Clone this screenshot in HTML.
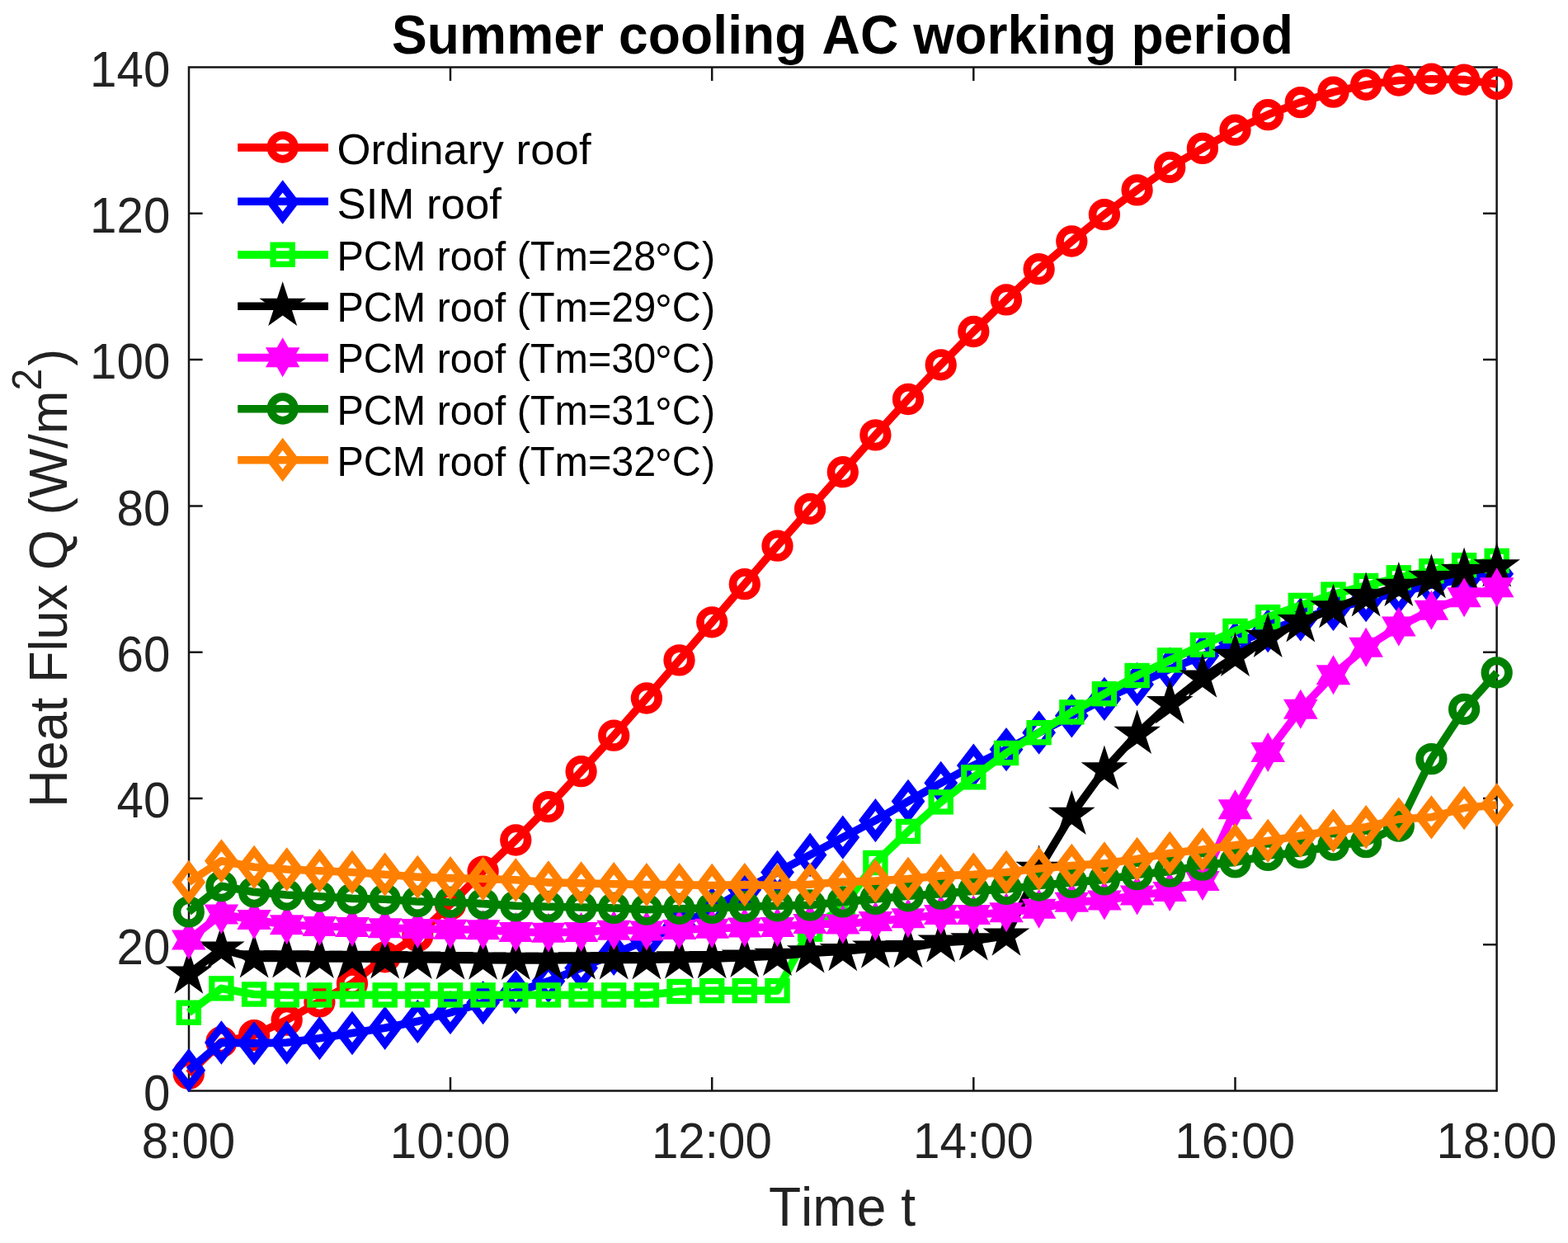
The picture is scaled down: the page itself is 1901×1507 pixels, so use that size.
<!DOCTYPE html>
<html lang="en"><head><meta charset="utf-8"><title>Summer cooling AC working period</title>
<style>html,body{margin:0;padding:0;background:#fff}body{width:1901px;height:1507px;overflow:hidden}svg{display:block}text{font-family:"Liberation Sans",Arial,Helvetica,sans-serif;fill:#000;font-kerning:none}.tk{font-size:58.33px;fill:#222}.lb{font-size:64.17px;fill:#222}.yl{font-size:63.2px;fill:#222}.sp{font-size:47.8px}.tt{font-size:64.17px;font-weight:bold}.lg{font-size:52.8px}.lg2{font-size:48.52px}.dg{font-size:52px}</style></head><body>
<svg width="1901" height="1507" viewBox="0 0 1901 1507">
<rect width="1901" height="1507" fill="#fff"/>
<defs><circle id="m-red" r="14.3" fill="none" stroke="#ff0000" stroke-width="9.7"/><path id="m-blue" d="M0,-19.1 L14.6,0 L0,19.1 L-14.6,0 Z" fill="none" stroke="#0000ff" stroke-width="9.2" stroke-miterlimit="10"/><rect id="m-green" x="-11.6" y="-11.6" width="23.2" height="23.2" fill="none" stroke="#00ff00" stroke-width="7.2"/><polygon id="m-black" points="0,-29.8 6.7,-9.2 28.3,-9.2 10.8,3.5 17.5,24.1 0,11.4 -17.5,24.1 -10.8,3.5 -28.3,-9.2 -6.7,-9.2" fill="#000000"/><polygon id="m-magenta" points="0,-24 6.9,-12 20.8,-12 13.9,0 20.8,12 6.9,12 0,24 -6.9,12 -20.8,12 -13.9,0 -20.8,-12 -6.9,-12" fill="#ff00ff"/><circle id="m-dgreen" r="14.3" fill="none" stroke="#008000" stroke-width="9.7"/><path id="m-orange" d="M0,-19.1 L14.6,0 L0,19.1 L-14.6,0 Z" fill="none" stroke="#ff8000" stroke-width="9.2" stroke-miterlimit="10"/></defs>
<g stroke="#151515" stroke-width="2.5" fill="none" stroke-linecap="square"><rect x="229" y="81.5" width="1585.6" height="1241"/></g><g stroke="#151515" stroke-width="2.5" fill="none"><path d="M546,1322.5 v-16.6 M546,81.5 v16.6"/><path d="M863.2,1322.5 v-16.6 M863.2,81.5 v16.6"/><path d="M1180.3,1322.5 v-16.6 M1180.3,81.5 v16.6"/><path d="M1497.5,1322.5 v-16.6 M1497.5,81.5 v16.6"/><path d="M229,1145.3 h16.6 M1814.6,1145.3 h-16.6"/><path d="M229,968 h16.6 M1814.6,968 h-16.6"/><path d="M229,790.7 h16.6 M1814.6,790.7 h-16.6"/><path d="M229,613.4 h16.6 M1814.6,613.4 h-16.6"/><path d="M229,436.1 h16.6 M1814.6,436.1 h-16.6"/><path d="M229,258.8 h16.6 M1814.6,258.8 h-16.6"/></g>
<g><polyline fill="none" stroke="#ff0000" stroke-width="9.6" stroke-linejoin="round" points="228.8,1301.7 268.4,1263.2 308.1,1255.2 347.7,1236.6 387.4,1214.4 427,1192.2 466.7,1160.3 506.3,1134.6 546,1096.5 585.6,1056.6 625.3,1018.5 664.9,978.2 704.6,935.2 744.2,891.7 783.9,846.5 823.5,800.4 863.2,754.3 902.8,708.2 942.5,661.7 982.1,616.9 1021.8,572.2 1061.4,527.4 1101,484 1140.7,442.3 1180.3,402 1220,363.4 1259.6,326.2 1299.3,292.5 1338.9,260.1 1378.6,230.4 1418.2,202.9 1457.9,179.9 1497.5,157.7 1537.2,139.1 1576.8,124.1 1616.5,111.6 1656.1,102.8 1695.8,97.5 1735.4,95.7 1775.1,96.6 1814.7,101.9"/><use href="#m-red" x="228.8" y="1301.7"/><use href="#m-red" x="268.4" y="1263.2"/><use href="#m-red" x="308.1" y="1255.2"/><use href="#m-red" x="347.7" y="1236.6"/><use href="#m-red" x="387.4" y="1214.4"/><use href="#m-red" x="427" y="1192.2"/><use href="#m-red" x="466.7" y="1160.3"/><use href="#m-red" x="506.3" y="1134.6"/><use href="#m-red" x="546" y="1096.5"/><use href="#m-red" x="585.6" y="1056.6"/><use href="#m-red" x="625.3" y="1018.5"/><use href="#m-red" x="664.9" y="978.2"/><use href="#m-red" x="704.6" y="935.2"/><use href="#m-red" x="744.2" y="891.7"/><use href="#m-red" x="783.9" y="846.5"/><use href="#m-red" x="823.5" y="800.4"/><use href="#m-red" x="863.2" y="754.3"/><use href="#m-red" x="902.8" y="708.2"/><use href="#m-red" x="942.5" y="661.7"/><use href="#m-red" x="982.1" y="616.9"/><use href="#m-red" x="1021.8" y="572.2"/><use href="#m-red" x="1061.4" y="527.4"/><use href="#m-red" x="1101" y="484"/><use href="#m-red" x="1140.7" y="442.3"/><use href="#m-red" x="1180.3" y="402"/><use href="#m-red" x="1220" y="363.4"/><use href="#m-red" x="1259.6" y="326.2"/><use href="#m-red" x="1299.3" y="292.5"/><use href="#m-red" x="1338.9" y="260.1"/><use href="#m-red" x="1378.6" y="230.4"/><use href="#m-red" x="1418.2" y="202.9"/><use href="#m-red" x="1457.9" y="179.9"/><use href="#m-red" x="1497.5" y="157.7"/><use href="#m-red" x="1537.2" y="139.1"/><use href="#m-red" x="1576.8" y="124.1"/><use href="#m-red" x="1616.5" y="111.6"/><use href="#m-red" x="1656.1" y="102.8"/><use href="#m-red" x="1695.8" y="97.5"/><use href="#m-red" x="1735.4" y="95.7"/><use href="#m-red" x="1775.1" y="96.6"/><use href="#m-red" x="1814.7" y="101.9"/></g>
<g><polyline fill="none" stroke="#0000ff" stroke-width="9.6" stroke-linejoin="round" points="228.8,1297.7 268.4,1264 308.1,1264.9 347.7,1264 387.4,1258.7 427,1252.5 466.7,1246.3 506.3,1238.3 546,1227.7 585.6,1215.6 625.3,1202.9 664.9,1189.6 704.6,1173.6 744.2,1156.3 783.9,1139.9 823.5,1122.2 863.2,1101.8 902.8,1078.8 942.5,1057.5 982.1,1036.5 1021.8,1015.2 1061.4,994.6 1101,971.5 1140.7,949.3 1180.3,928.1 1220,908.6 1259.6,888.2 1299.3,867.8 1338.9,847.4 1378.6,829.7 1418.2,811.1 1457.9,795.1 1497.5,779.6 1537.2,764.7 1576.8,750.8 1616.5,738.4 1656.1,727.7 1695.8,718 1735.4,709.1 1775.1,702 1814.7,695.8"/><use href="#m-blue" x="228.8" y="1297.7"/><use href="#m-blue" x="268.4" y="1264"/><use href="#m-blue" x="308.1" y="1264.9"/><use href="#m-blue" x="347.7" y="1264"/><use href="#m-blue" x="387.4" y="1258.7"/><use href="#m-blue" x="427" y="1252.5"/><use href="#m-blue" x="466.7" y="1246.3"/><use href="#m-blue" x="506.3" y="1238.3"/><use href="#m-blue" x="546" y="1227.7"/><use href="#m-blue" x="585.6" y="1215.6"/><use href="#m-blue" x="625.3" y="1202.9"/><use href="#m-blue" x="664.9" y="1189.6"/><use href="#m-blue" x="704.6" y="1173.6"/><use href="#m-blue" x="744.2" y="1156.3"/><use href="#m-blue" x="783.9" y="1139.9"/><use href="#m-blue" x="823.5" y="1122.2"/><use href="#m-blue" x="863.2" y="1101.8"/><use href="#m-blue" x="902.8" y="1078.8"/><use href="#m-blue" x="942.5" y="1057.5"/><use href="#m-blue" x="982.1" y="1036.5"/><use href="#m-blue" x="1021.8" y="1015.2"/><use href="#m-blue" x="1061.4" y="994.6"/><use href="#m-blue" x="1101" y="971.5"/><use href="#m-blue" x="1140.7" y="949.3"/><use href="#m-blue" x="1180.3" y="928.1"/><use href="#m-blue" x="1220" y="908.6"/><use href="#m-blue" x="1259.6" y="888.2"/><use href="#m-blue" x="1299.3" y="867.8"/><use href="#m-blue" x="1338.9" y="847.4"/><use href="#m-blue" x="1378.6" y="829.7"/><use href="#m-blue" x="1418.2" y="811.1"/><use href="#m-blue" x="1457.9" y="795.1"/><use href="#m-blue" x="1497.5" y="779.6"/><use href="#m-blue" x="1537.2" y="764.7"/><use href="#m-blue" x="1576.8" y="750.8"/><use href="#m-blue" x="1616.5" y="738.4"/><use href="#m-blue" x="1656.1" y="727.7"/><use href="#m-blue" x="1695.8" y="718"/><use href="#m-blue" x="1735.4" y="709.1"/><use href="#m-blue" x="1775.1" y="702"/><use href="#m-blue" x="1814.7" y="695.8"/></g>
<g><polyline fill="none" stroke="#00ff00" stroke-width="9.6" stroke-linejoin="round" points="228.8,1227.7 268.4,1198.4 308.1,1205.5 347.7,1206.4 387.4,1206.4 427,1206.4 466.7,1206.4 506.3,1206.4 546,1206.4 585.6,1206.4 625.3,1206.4 664.9,1206.4 704.6,1206.4 744.2,1206.4 783.9,1206.4 823.5,1202 863.2,1201.1 902.8,1201.1 942.5,1201.1 982.1,1126.6 1021.8,1100 1061.4,1046 1101,1007.9 1140.7,972.4 1180.3,942.3 1220,913 1259.6,888.2 1299.3,863.4 1338.9,841.2 1378.6,819 1418.2,800.4 1457.9,781.8 1497.5,765 1537.2,748.1 1576.8,733.9 1616.5,720.6 1656.1,710 1695.8,700.3 1735.4,692.3 1775.1,685.2 1814.7,679.9"/><use href="#m-green" x="228.8" y="1227.7"/><use href="#m-green" x="268.4" y="1198.4"/><use href="#m-green" x="308.1" y="1205.5"/><use href="#m-green" x="347.7" y="1206.4"/><use href="#m-green" x="387.4" y="1206.4"/><use href="#m-green" x="427" y="1206.4"/><use href="#m-green" x="466.7" y="1206.4"/><use href="#m-green" x="506.3" y="1206.4"/><use href="#m-green" x="546" y="1206.4"/><use href="#m-green" x="585.6" y="1206.4"/><use href="#m-green" x="625.3" y="1206.4"/><use href="#m-green" x="664.9" y="1206.4"/><use href="#m-green" x="704.6" y="1206.4"/><use href="#m-green" x="744.2" y="1206.4"/><use href="#m-green" x="783.9" y="1206.4"/><use href="#m-green" x="823.5" y="1202"/><use href="#m-green" x="863.2" y="1201.1"/><use href="#m-green" x="902.8" y="1201.1"/><use href="#m-green" x="942.5" y="1201.1"/><use href="#m-green" x="982.1" y="1126.6"/><use href="#m-green" x="1021.8" y="1100"/><use href="#m-green" x="1061.4" y="1046"/><use href="#m-green" x="1101" y="1007.9"/><use href="#m-green" x="1140.7" y="972.4"/><use href="#m-green" x="1180.3" y="942.3"/><use href="#m-green" x="1220" y="913"/><use href="#m-green" x="1259.6" y="888.2"/><use href="#m-green" x="1299.3" y="863.4"/><use href="#m-green" x="1338.9" y="841.2"/><use href="#m-green" x="1378.6" y="819"/><use href="#m-green" x="1418.2" y="800.4"/><use href="#m-green" x="1457.9" y="781.8"/><use href="#m-green" x="1497.5" y="765"/><use href="#m-green" x="1537.2" y="748.1"/><use href="#m-green" x="1576.8" y="733.9"/><use href="#m-green" x="1616.5" y="720.6"/><use href="#m-green" x="1656.1" y="710"/><use href="#m-green" x="1695.8" y="700.3"/><use href="#m-green" x="1735.4" y="692.3"/><use href="#m-green" x="1775.1" y="685.2"/><use href="#m-green" x="1814.7" y="679.9"/></g>
<g><polyline fill="none" stroke="#000000" stroke-width="9.6" stroke-linejoin="round" points="228.8,1180.7 268.4,1150.6 308.1,1161.5 347.7,1161.5 387.4,1161.9 427,1161.9 466.7,1162.4 506.3,1162.8 546,1163.3 585.6,1163.7 625.3,1163.9 664.9,1163.9 704.6,1163.4 744.2,1163.4 783.9,1163.4 823.5,1162.5 863.2,1162.1 902.8,1160.8 942.5,1159 982.1,1155.5 1021.8,1153.2 1061.4,1149.7 1101,1149.2 1140.7,1142.6 1180.3,1140.4 1220,1134.6 1259.6,1054 1299.3,987.9 1338.9,933.4 1378.6,890 1418.2,853.3 1457.9,821.7 1497.5,796 1537.2,772.9 1576.8,754.3 1616.5,737.5 1656.1,723.3 1695.8,710.9 1735.4,701.1 1775.1,693.2 1814.7,687.5"/><use href="#m-black" x="228.8" y="1180.7"/><use href="#m-black" x="268.4" y="1150.6"/><use href="#m-black" x="308.1" y="1161.5"/><use href="#m-black" x="347.7" y="1161.5"/><use href="#m-black" x="387.4" y="1161.9"/><use href="#m-black" x="427" y="1161.9"/><use href="#m-black" x="466.7" y="1162.4"/><use href="#m-black" x="506.3" y="1162.8"/><use href="#m-black" x="546" y="1163.3"/><use href="#m-black" x="585.6" y="1163.7"/><use href="#m-black" x="625.3" y="1163.9"/><use href="#m-black" x="664.9" y="1163.9"/><use href="#m-black" x="704.6" y="1163.4"/><use href="#m-black" x="744.2" y="1163.4"/><use href="#m-black" x="783.9" y="1163.4"/><use href="#m-black" x="823.5" y="1162.5"/><use href="#m-black" x="863.2" y="1162.1"/><use href="#m-black" x="902.8" y="1160.8"/><use href="#m-black" x="942.5" y="1159"/><use href="#m-black" x="982.1" y="1155.5"/><use href="#m-black" x="1021.8" y="1153.2"/><use href="#m-black" x="1061.4" y="1149.7"/><use href="#m-black" x="1101" y="1149.2"/><use href="#m-black" x="1140.7" y="1142.6"/><use href="#m-black" x="1180.3" y="1140.4"/><use href="#m-black" x="1220" y="1134.6"/><use href="#m-black" x="1259.6" y="1054"/><use href="#m-black" x="1299.3" y="987.9"/><use href="#m-black" x="1338.9" y="933.4"/><use href="#m-black" x="1378.6" y="890"/><use href="#m-black" x="1418.2" y="853.3"/><use href="#m-black" x="1457.9" y="821.7"/><use href="#m-black" x="1497.5" y="796"/><use href="#m-black" x="1537.2" y="772.9"/><use href="#m-black" x="1576.8" y="754.3"/><use href="#m-black" x="1616.5" y="737.5"/><use href="#m-black" x="1656.1" y="723.3"/><use href="#m-black" x="1695.8" y="710.9"/><use href="#m-black" x="1735.4" y="701.1"/><use href="#m-black" x="1775.1" y="693.2"/><use href="#m-black" x="1814.7" y="687.5"/></g>
<g><polyline fill="none" stroke="#ff00ff" stroke-width="9.6" stroke-linejoin="round" points="228.8,1139.5 268.4,1108.5 308.1,1115.1 347.7,1121.3 387.4,1123.1 427,1124 466.7,1125.3 506.3,1125.9 546,1126.8 585.6,1127.3 625.3,1129.9 664.9,1130.8 704.6,1129.9 744.2,1127.7 783.9,1128.4 823.5,1127.1 863.2,1125.8 902.8,1124.4 942.5,1124 982.1,1120 1021.8,1120.4 1061.4,1116.9 1101,1113.3 1140.7,1108.9 1180.3,1108.9 1220,1106.3 1259.6,1101.8 1299.3,1093.8 1338.9,1091.6 1378.6,1085.4 1418.2,1081 1457.9,1068.1 1497.5,981.3 1537.2,912.1 1576.8,859.8 1616.5,818.2 1656.1,784.8 1695.8,759.6 1735.4,739.8 1775.1,724.2 1814.7,712.3"/><use href="#m-magenta" x="228.8" y="1139.5"/><use href="#m-magenta" x="268.4" y="1108.5"/><use href="#m-magenta" x="308.1" y="1115.1"/><use href="#m-magenta" x="347.7" y="1121.3"/><use href="#m-magenta" x="387.4" y="1123.1"/><use href="#m-magenta" x="427" y="1124"/><use href="#m-magenta" x="466.7" y="1125.3"/><use href="#m-magenta" x="506.3" y="1125.9"/><use href="#m-magenta" x="546" y="1126.8"/><use href="#m-magenta" x="585.6" y="1127.3"/><use href="#m-magenta" x="625.3" y="1129.9"/><use href="#m-magenta" x="664.9" y="1130.8"/><use href="#m-magenta" x="704.6" y="1129.9"/><use href="#m-magenta" x="744.2" y="1127.7"/><use href="#m-magenta" x="783.9" y="1128.4"/><use href="#m-magenta" x="823.5" y="1127.1"/><use href="#m-magenta" x="863.2" y="1125.8"/><use href="#m-magenta" x="902.8" y="1124.4"/><use href="#m-magenta" x="942.5" y="1124"/><use href="#m-magenta" x="982.1" y="1120"/><use href="#m-magenta" x="1021.8" y="1120.4"/><use href="#m-magenta" x="1061.4" y="1116.9"/><use href="#m-magenta" x="1101" y="1113.3"/><use href="#m-magenta" x="1140.7" y="1108.9"/><use href="#m-magenta" x="1180.3" y="1108.9"/><use href="#m-magenta" x="1220" y="1106.3"/><use href="#m-magenta" x="1259.6" y="1101.8"/><use href="#m-magenta" x="1299.3" y="1093.8"/><use href="#m-magenta" x="1338.9" y="1091.6"/><use href="#m-magenta" x="1378.6" y="1085.4"/><use href="#m-magenta" x="1418.2" y="1081"/><use href="#m-magenta" x="1457.9" y="1068.1"/><use href="#m-magenta" x="1497.5" y="981.3"/><use href="#m-magenta" x="1537.2" y="912.1"/><use href="#m-magenta" x="1576.8" y="859.8"/><use href="#m-magenta" x="1616.5" y="818.2"/><use href="#m-magenta" x="1656.1" y="784.8"/><use href="#m-magenta" x="1695.8" y="759.6"/><use href="#m-magenta" x="1735.4" y="739.8"/><use href="#m-magenta" x="1775.1" y="724.2"/><use href="#m-magenta" x="1814.7" y="712.3"/></g>
<g><polyline fill="none" stroke="#008000" stroke-width="9.6" stroke-linejoin="round" points="228.8,1105.4 268.4,1074.3 308.1,1081.4 347.7,1085 387.4,1086.8 427,1089.4 466.7,1090.3 506.3,1093 546,1093.8 585.6,1095.6 625.3,1098.3 664.9,1099.2 704.6,1100 744.2,1100.9 783.9,1102.7 823.5,1101.8 863.2,1100.9 902.8,1099.2 942.5,1098.3 982.1,1097.4 1021.8,1093.4 1061.4,1089.9 1101,1086.3 1140.7,1083.6 1180.3,1080.1 1220,1077.9 1259.6,1073.5 1299.3,1069.9 1338.9,1066.4 1378.6,1060.2 1418.2,1056.6 1457.9,1048.6 1497.5,1045.4 1537.2,1036.9 1576.8,1033.9 1616.5,1024.7 1656.1,1021.2 1695.8,1001.6 1735.4,920.1 1775.1,859.8 1814.7,815.5"/><use href="#m-dgreen" x="228.8" y="1105.4"/><use href="#m-dgreen" x="268.4" y="1074.3"/><use href="#m-dgreen" x="308.1" y="1081.4"/><use href="#m-dgreen" x="347.7" y="1085"/><use href="#m-dgreen" x="387.4" y="1086.8"/><use href="#m-dgreen" x="427" y="1089.4"/><use href="#m-dgreen" x="466.7" y="1090.3"/><use href="#m-dgreen" x="506.3" y="1093"/><use href="#m-dgreen" x="546" y="1093.8"/><use href="#m-dgreen" x="585.6" y="1095.6"/><use href="#m-dgreen" x="625.3" y="1098.3"/><use href="#m-dgreen" x="664.9" y="1099.2"/><use href="#m-dgreen" x="704.6" y="1100"/><use href="#m-dgreen" x="744.2" y="1100.9"/><use href="#m-dgreen" x="783.9" y="1102.7"/><use href="#m-dgreen" x="823.5" y="1101.8"/><use href="#m-dgreen" x="863.2" y="1100.9"/><use href="#m-dgreen" x="902.8" y="1099.2"/><use href="#m-dgreen" x="942.5" y="1098.3"/><use href="#m-dgreen" x="982.1" y="1097.4"/><use href="#m-dgreen" x="1021.8" y="1093.4"/><use href="#m-dgreen" x="1061.4" y="1089.9"/><use href="#m-dgreen" x="1101" y="1086.3"/><use href="#m-dgreen" x="1140.7" y="1083.6"/><use href="#m-dgreen" x="1180.3" y="1080.1"/><use href="#m-dgreen" x="1220" y="1077.9"/><use href="#m-dgreen" x="1259.6" y="1073.5"/><use href="#m-dgreen" x="1299.3" y="1069.9"/><use href="#m-dgreen" x="1338.9" y="1066.4"/><use href="#m-dgreen" x="1378.6" y="1060.2"/><use href="#m-dgreen" x="1418.2" y="1056.6"/><use href="#m-dgreen" x="1457.9" y="1048.6"/><use href="#m-dgreen" x="1497.5" y="1045.4"/><use href="#m-dgreen" x="1537.2" y="1036.9"/><use href="#m-dgreen" x="1576.8" y="1033.9"/><use href="#m-dgreen" x="1616.5" y="1024.7"/><use href="#m-dgreen" x="1656.1" y="1021.2"/><use href="#m-dgreen" x="1695.8" y="1001.6"/><use href="#m-dgreen" x="1735.4" y="920.1"/><use href="#m-dgreen" x="1775.1" y="859.8"/><use href="#m-dgreen" x="1814.7" y="815.5"/></g>
<g><polyline fill="none" stroke="#ff8000" stroke-width="9.6" stroke-linejoin="round" points="228.8,1069.5 268.4,1043.8 308.1,1051.3 347.7,1054 387.4,1055.7 427,1057.5 466.7,1060.2 506.3,1063.3 546,1064.6 585.6,1065.5 625.3,1066.8 664.9,1069.9 704.6,1070.8 744.2,1071.7 783.9,1072.6 823.5,1072.6 863.2,1073.5 902.8,1072.6 942.5,1073.5 982.1,1072.3 1021.8,1069.2 1061.4,1068.1 1101,1065.5 1140.7,1061.9 1180.3,1060.2 1220,1057.5 1259.6,1053.1 1299.3,1049.5 1338.9,1046.9 1378.6,1041.5 1418.2,1034.4 1457.9,1030 1497.5,1024.7 1537.2,1019.4 1576.8,1013.3 1616.5,1007.1 1656.1,1002.7 1695.8,993.1 1735.4,990.8 1775.1,979.5 1814.7,975.9"/><use href="#m-orange" x="228.8" y="1069.5"/><use href="#m-orange" x="268.4" y="1043.8"/><use href="#m-orange" x="308.1" y="1051.3"/><use href="#m-orange" x="347.7" y="1054"/><use href="#m-orange" x="387.4" y="1055.7"/><use href="#m-orange" x="427" y="1057.5"/><use href="#m-orange" x="466.7" y="1060.2"/><use href="#m-orange" x="506.3" y="1063.3"/><use href="#m-orange" x="546" y="1064.6"/><use href="#m-orange" x="585.6" y="1065.5"/><use href="#m-orange" x="625.3" y="1066.8"/><use href="#m-orange" x="664.9" y="1069.9"/><use href="#m-orange" x="704.6" y="1070.8"/><use href="#m-orange" x="744.2" y="1071.7"/><use href="#m-orange" x="783.9" y="1072.6"/><use href="#m-orange" x="823.5" y="1072.6"/><use href="#m-orange" x="863.2" y="1073.5"/><use href="#m-orange" x="902.8" y="1072.6"/><use href="#m-orange" x="942.5" y="1073.5"/><use href="#m-orange" x="982.1" y="1072.3"/><use href="#m-orange" x="1021.8" y="1069.2"/><use href="#m-orange" x="1061.4" y="1068.1"/><use href="#m-orange" x="1101" y="1065.5"/><use href="#m-orange" x="1140.7" y="1061.9"/><use href="#m-orange" x="1180.3" y="1060.2"/><use href="#m-orange" x="1220" y="1057.5"/><use href="#m-orange" x="1259.6" y="1053.1"/><use href="#m-orange" x="1299.3" y="1049.5"/><use href="#m-orange" x="1338.9" y="1046.9"/><use href="#m-orange" x="1378.6" y="1041.5"/><use href="#m-orange" x="1418.2" y="1034.4"/><use href="#m-orange" x="1457.9" y="1030"/><use href="#m-orange" x="1497.5" y="1024.7"/><use href="#m-orange" x="1537.2" y="1019.4"/><use href="#m-orange" x="1576.8" y="1013.3"/><use href="#m-orange" x="1616.5" y="1007.1"/><use href="#m-orange" x="1656.1" y="1002.7"/><use href="#m-orange" x="1695.8" y="993.1"/><use href="#m-orange" x="1735.4" y="990.8"/><use href="#m-orange" x="1775.1" y="979.5"/><use href="#m-orange" x="1814.7" y="975.9"/></g>
<g><path d="M288.2,178.9 H398.0" stroke="#ff0000" stroke-width="9.6" fill="none"/><use href="#m-red" x="342.7" y="178.5"/></g>
<text class="lg" text-anchor="start" transform="translate(408.5,199.4) scale(1,0.986)">Ordinary roof</text>
<g><path d="M288.2,244.2 H398.0" stroke="#0000ff" stroke-width="9.6" fill="none"/><use href="#m-blue" x="342.7" y="245"/></g>
<text class="lg" text-anchor="start" transform="translate(408.5,265.2) scale(1,0.986)">SIM roof</text>
<g><path d="M288.2,308.9 H398.0" stroke="#00ff00" stroke-width="9.6" fill="none"/><use href="#m-green" x="342.7" y="308.7"/></g>
<text class="lg2" text-anchor="start" transform="translate(408.4,327.9) scale(1,1.03)">PCM roof (Tm=28<tspan class="dg" x="385.6" dy="4.9">°</tspan><tspan x="406.3" dy="-4.9" style="letter-spacing:1.3px">C)</tspan></text>
<g><path d="M288.2,371.2 H398.0" stroke="#000000" stroke-width="9.6" fill="none"/><use href="#m-black" x="342.7" y="371"/></g>
<text class="lg2" text-anchor="start" transform="translate(408.4,390.1) scale(1,1.03)">PCM roof (Tm=29<tspan class="dg" x="385.6" dy="4.9">°</tspan><tspan x="406.3" dy="-4.9" style="letter-spacing:1.3px">C)</tspan></text>
<g><path d="M288.2,433.6 H398.0" stroke="#ff00ff" stroke-width="9.6" fill="none"/><use href="#m-magenta" x="342.7" y="433.3"/></g>
<text class="lg2" text-anchor="start" transform="translate(408.4,452.3) scale(1,1.03)">PCM roof (Tm=30<tspan class="dg" x="385.6" dy="4.9">°</tspan><tspan x="406.3" dy="-4.9" style="letter-spacing:1.3px">C)</tspan></text>
<g><path d="M288.2,495.7 H398.0" stroke="#008000" stroke-width="9.6" fill="none"/><use href="#m-dgreen" x="342.7" y="495.5"/></g>
<text class="lg2" text-anchor="start" transform="translate(408.4,514.5) scale(1,1.03)">PCM roof (Tm=31<tspan class="dg" x="385.6" dy="4.9">°</tspan><tspan x="406.3" dy="-4.9" style="letter-spacing:1.3px">C)</tspan></text>
<g><path d="M288.2,557.8 H398.0" stroke="#ff8000" stroke-width="9.6" fill="none"/><use href="#m-orange" x="342.7" y="557.4"/></g>
<text class="lg2" text-anchor="start" transform="translate(408.4,576.6) scale(1,1.03)">PCM roof (Tm=32<tspan class="dg" x="385.6" dy="4.9">°</tspan><tspan x="406.3" dy="-4.9" style="letter-spacing:1.3px">C)</tspan></text>
<text class="tk" text-anchor="middle" transform="translate(228.5,1403.7) scale(1,1.035)">8:00</text>
<text class="tk" text-anchor="middle" transform="translate(545.68,1403.7) scale(1,1.035)">10:00</text>
<text class="tk" text-anchor="middle" transform="translate(862.86,1403.7) scale(1,1.035)">12:00</text>
<text class="tk" text-anchor="middle" transform="translate(1180.04,1403.7) scale(1,1.035)">14:00</text>
<text class="tk" text-anchor="middle" transform="translate(1497.22,1403.7) scale(1,1.035)">16:00</text>
<text class="tk" text-anchor="middle" transform="translate(1814.4,1403.7) scale(1,1.035)">18:00</text>
<text class="tk" text-anchor="end" transform="translate(206.4,1345.95) scale(1,1.035)">0</text>
<text class="tk" text-anchor="end" transform="translate(206.4,1168.66) scale(1,1.035)">20</text>
<text class="tk" text-anchor="end" transform="translate(206.4,991.36) scale(1,1.035)">40</text>
<text class="tk" text-anchor="end" transform="translate(206.4,814.07) scale(1,1.035)">60</text>
<text class="tk" text-anchor="end" transform="translate(206.4,636.78) scale(1,1.035)">80</text>
<text class="tk" text-anchor="end" transform="translate(206.4,459.49) scale(1,1.035)">100</text>
<text class="tk" text-anchor="end" transform="translate(206.4,282.19) scale(1,1.035)">120</text>
<text class="tk" text-anchor="end" transform="translate(206.4,104.9) scale(1,1.035)">140</text>
<text class="lb" text-anchor="middle" transform="translate(1021,1485.8) scale(1,1.035)">Time t</text>
<text class="yl" text-anchor="start" transform="translate(81.3,979.1) rotate(-90) scale(1,1.035)">Heat Flux Q (W/m<tspan class="sp" dy="-30.3">2</tspan><tspan dy="30.3" dx="3.4">)</tspan></text>
<text class="tt" text-anchor="middle" transform="translate(1021.5,65.2) scale(1,1.035)" style="letter-spacing:0.07px">Summer cooling AC working period</text>
</svg></body></html>
